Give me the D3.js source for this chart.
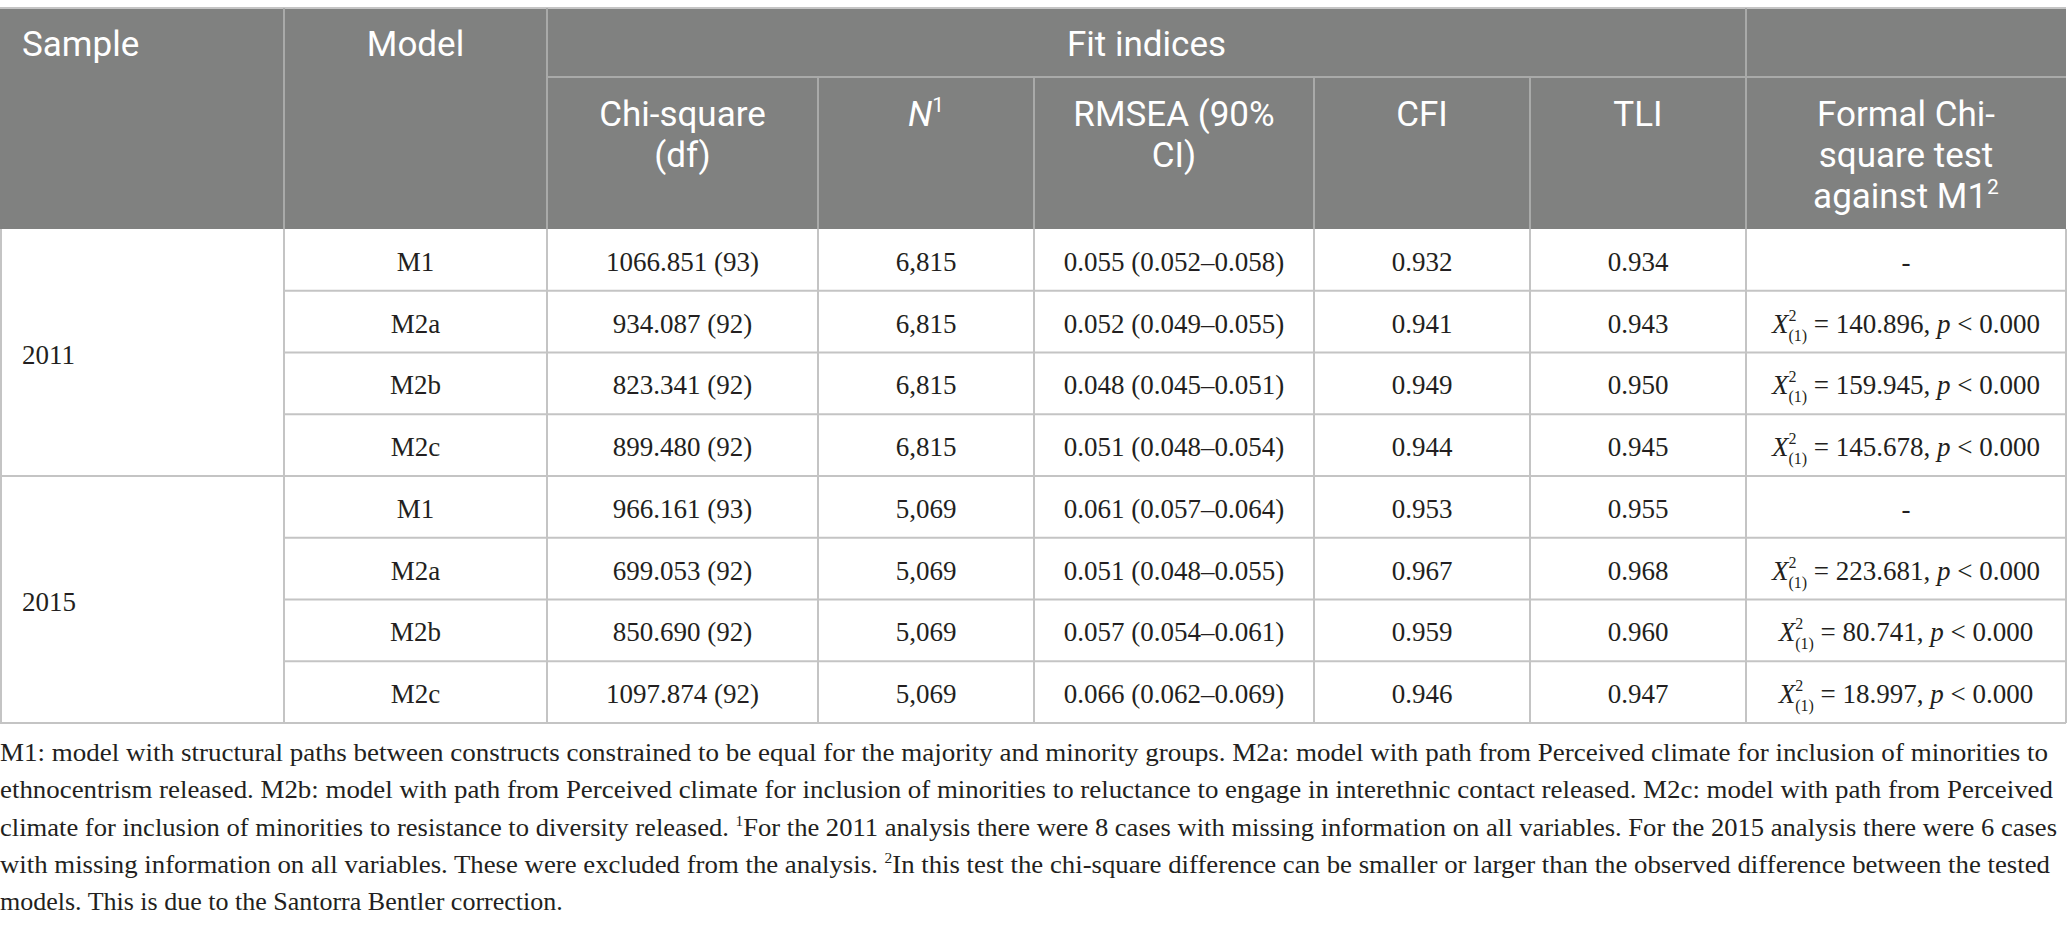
<!DOCTYPE html>
<html>
<head>
<meta charset="utf-8">
<script src="https://cdn.jsdelivr.net/npm/d3@7"></script>
<style>
  body { margin: 0; background: #fff; }
</style>
</head>
<body>
<script>
// Table values
var samples = ["2011", "2015"];
var models = ["M1", "M2a", "M2b", "M2c", "M1", "M2a", "M2b", "M2c"];
var chiSquare = ["1066.851 (93)", "934.087 (92)", "823.341 (92)", "899.480 (92)",
                 "966.161 (93)", "699.053 (92)", "850.690 (92)", "1097.874 (92)"];
var nValues = ["6,815", "6,815", "6,815", "6,815", "5,069", "5,069", "5,069", "5,069"];
var rmsea = ["0.055 (0.052\u20130.058)", "0.052 (0.049\u20130.055)", "0.048 (0.045\u20130.051)", "0.051 (0.048\u20130.054)",
             "0.061 (0.057\u20130.064)", "0.051 (0.048\u20130.055)", "0.057 (0.054\u20130.061)", "0.066 (0.062\u20130.069)"];
var cfi = ["0.932", "0.941", "0.949", "0.944", "0.953", "0.967", "0.959", "0.946"];
var tli = ["0.934", "0.943", "0.950", "0.945", "0.955", "0.968", "0.960", "0.947"];
var chiTest = [null, "140.896", "159.945", "145.678", null, "223.681", "80.741", "18.997"];
var columns = ["sample", "model", "chi", "n", "rmsea", "cfi", "tli", "test"];
var footnote = [
  "M1: model with structural paths between constructs constrained to be equal for the majority and minority groups. M2a: model with path from Perceived climate for inclusion of minorities to",
  "ethnocentrism released. M2b: model with path from Perceived climate for inclusion of minorities to reluctance to engage in interethnic contact released. M2c: model with path from Perceived",
  "climate for inclusion of minorities to resistance to diversity released. |1|For the 2011 analysis there were 8 cases with missing information on all variables. For the 2015 analysis there were 6 cases",
  "with missing information on all variables. These were excluded from the analysis. |2|In this test the chi-square difference can be smaller or larger than the observed difference between the tested",
  "models. This is due to the Santorra Bentler correction."
];

function init() {
    var w = 2068;
    var h = 930;

    var svg = d3.select("body")
        .append("svg")
        .attr("width", w)
        .attr("height", h);

    // Column left edges
    var colX = d3.scaleOrdinal()
        .domain(columns.concat(["end"]))
        .range([0, 284, 547, 818, 1034, 1314, 1530, 1746, 2066]);
    function mid(c) {
        var i = columns.indexOf(c);
        var next = i < columns.length - 1 ? columns[i + 1] : "end";
        return (colX(c) + colX(next)) / 2;
    }

    var headTop = 8, headMid = 77, headBottom = 229;

    // Body rows
    var y = d3.scaleBand()
        .domain(d3.range(models.length))
        .range([headBottom, 723]);

    // Header background
    svg.append("rect")
        .attr("x", 0).attr("y", headTop)
        .attr("width", colX("end")).attr("height", headBottom - headTop)
        .attr("fill", "#808180");

    var headLine = "#a9aaa9";
    var bodyLine = "#c4c4c4";

    // header lines
    svg.append("line")
        .attr("x1", 0).attr("x2", colX("end"))
        .attr("y1", headTop).attr("y2", headTop)
        .attr("stroke", "#c4c4c4").attr("stroke-width", 2);
    svg.append("line")
        .attr("x1", colX("chi")).attr("x2", colX("end"))
        .attr("y1", headMid).attr("y2", headMid)
        .attr("stroke", headLine).attr("stroke-width", 2);
    ["model", "chi", "test"].forEach(function(c) {
        svg.append("line")
            .attr("x1", colX(c)).attr("x2", colX(c))
            .attr("y1", headTop).attr("y2", headBottom)
            .attr("stroke", headLine).attr("stroke-width", 2);
    });
    ["n", "rmsea", "cfi", "tli"].forEach(function(c) {
        svg.append("line")
            .attr("x1", colX(c)).attr("x2", colX(c))
            .attr("y1", headMid).attr("y2", headBottom)
            .attr("stroke", headLine).attr("stroke-width", 2);
    });

    // Header text
    var head = svg.append("g")
        .attr("font-family", "Roboto, 'Open Sans', sans-serif")
        .attr("font-size", 35)
        .attr("fill", "#fff");

    head.append("text").attr("x", 22).attr("y", 56).text("Sample");
    head.append("text").attr("x", mid("model")).attr("y", 56)
        .attr("text-anchor", "middle").text("Model");
    head.append("text").attr("x", (colX("chi") + colX("test")) / 2).attr("y", 56)
        .attr("text-anchor", "middle").text("Fit indices");

    var subHeads = [
        { col: "chi", lines: ["Chi-square", "(df)"] },
        { col: "rmsea", lines: ["RMSEA (90%", "CI)"] },
        { col: "cfi", lines: ["CFI"] },
        { col: "tli", lines: ["TLI"] },
        { col: "test", lines: ["Formal Chi-", "square test", "against M1"] }
    ];
    // one text per cell, lines as tspans
    subHeads.forEach(function(d) {
        var t = head.append("text")
            .attr("y", 126)
            .attr("text-anchor", "middle");
        d.lines.forEach(function(line, i) {
            t.append("tspan")
                .attr("x", mid(d.col))
                .attr("y", 126 + i * 41)
                .text(line);
        });
        if (d.col == "test") {
            t.append("tspan").attr("font-size", 21).attr("dy", -14).text("2");
        }
    });
    var nHead = head.append("text")
        .attr("x", mid("n")).attr("y", 126)
        .attr("text-anchor", "middle");
    nHead.append("tspan").attr("font-style", "italic").text("N");
    nHead.append("tspan").attr("font-size", 21).attr("dy", -14).text("1");

    // Body grid lines
    var body = svg.append("g");
    d3.range(1, models.length + 1).forEach(function(i) {
        var yy = i == models.length ? 723 : y(i);
        var full = (i == 4 || i == models.length);
        body.append("line")
            .attr("x1", full ? 0 : colX("model")).attr("x2", colX("end"))
            .attr("y1", yy).attr("y2", yy)
            .attr("stroke", bodyLine).attr("stroke-width", 2);
    });
    columns.concat(["end"]).forEach(function(c) {
        var xx = c == "sample" ? 1 : colX(c);
        body.append("line")
            .attr("x1", xx).attr("x2", xx)
            .attr("y1", headBottom).attr("y2", 723)
            .attr("stroke", bodyLine).attr("stroke-width", 2);
    });

    // Body text
    var cells = svg.append("g")
        .attr("font-family", "'Liberation Serif', 'Times New Roman', serif")
        .attr("font-size", 27)
        .attr("fill", "#231f20");

    samples.forEach(function(s, i) {
        var top = y(i * 4);
        var bottom = i == 1 ? 723 : y(4);
        cells.append("text")
            .attr("x", 22)
            .attr("y", (top + bottom) / 2 + 11)
            .text(s);
    });

    var colData = [
        { col: "model", vals: models },
        { col: "chi", vals: chiSquare },
        { col: "n", vals: nValues },
        { col: "rmsea", vals: rmsea },
        { col: "cfi", vals: cfi },
        { col: "tli", vals: tli }
    ];
    colData.forEach(function(cd) {
        cells.selectAll(null)
            .data(cd.vals)
            .enter()
            .append("text")
            .attr("x", mid(cd.col))
            .attr("y", function(d, i) { return y(i) + y.bandwidth() / 2 + 11; })
            .attr("text-anchor", "middle")
            .text(function(d) { return d; });
    });

    // Formal chi-square test column
    var tests = cells.selectAll(null)
        .data(chiTest)
        .enter()
        .append("text")
        .attr("x", mid("test"))
        .attr("y", function(d, i) { return y(i) + y.bandwidth() / 2 + 11; })
        .attr("text-anchor", "middle");
    tests.each(function(d) {
        var t = d3.select(this);
        if (d == null) {
            t.text("-");
            return;
        }
        t.append("tspan").attr("font-style", "italic").text("X");
        t.append("tspan").attr("font-size", 16).attr("dy", -12).text("2");
        t.append("tspan").attr("font-size", 16).attr("dx", -8).attr("dy", 20).text("(1)");
        t.append("tspan").attr("dy", -8).text(" = " + d + ", ");
        t.append("tspan").attr("font-style", "italic").text("p");
        t.append("tspan").text(" < 0.000");
    });

    // Footnote
    var note = svg.append("g")
        .attr("font-family", "'Liberation Serif', 'Times New Roman', serif")
        .attr("font-size", 26)
        .attr("fill", "#231f20");
    var noteWidths = [2048, 2053, 2057, 2050, null];
    footnote.forEach(function(line, i) {
        var t = note.append("text")
            .attr("x", 0)
            .attr("y", 761 + i * 37.3);
        line.split("|").forEach(function(part, k) {
            if (k % 2 == 1) {
                t.append("tspan").attr("font-size", 15).attr("dy", -10).text(part);
            } else {
                t.append("tspan").attr("dy", k > 0 ? 10 : 0).text(part);
            }
        });
        if (noteWidths[i]) {
            t.attr("textLength", noteWidths[i]).attr("lengthAdjust", "spacingAndGlyphs");
        }
    });
}
window.onload = init;
</script>
</body>
</html>
